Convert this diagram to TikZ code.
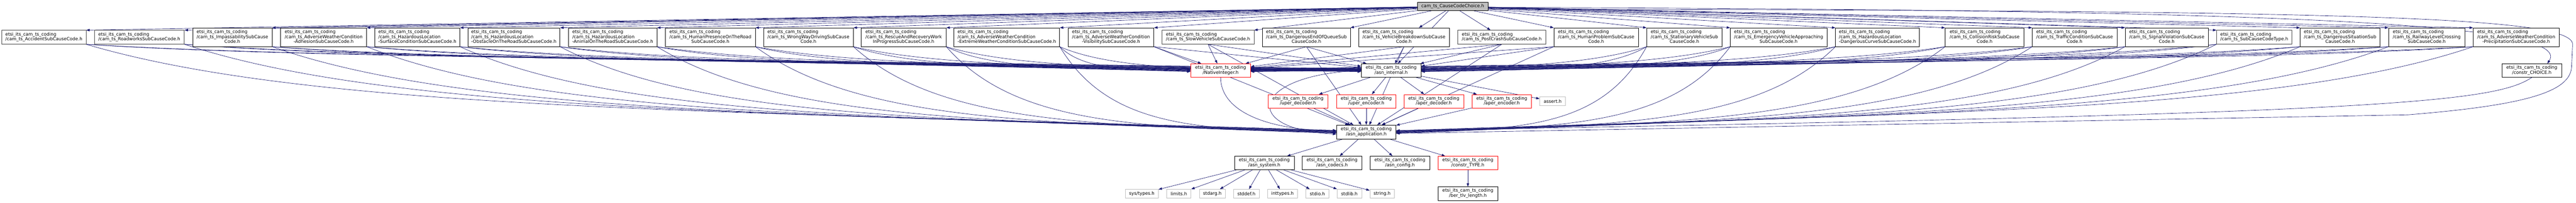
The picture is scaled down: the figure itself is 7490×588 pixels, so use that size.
\documentclass[tikz,border=0pt]{standalone}
\usepackage{fontspec}
\setmainfont{DejaVu Sans}
\usetikzlibrary{arrows.meta,calc}
\pgfdeclarelayer{paper}
\pgfdeclarelayer{edgelayer}
\pgfsetlayers{paper,edgelayer,main}
\definecolor{eb}{HTML}{191970}
\definecolor{sg}{HTML}{BFBFBF}
\newcommand\Epre{etsi\_its\_cam\_ts\_coding}
\newcommand\twol[1]{\begin{tabular}{@{}l@{}}\Epre\\\multicolumn{1}{@{}c@{}}{#1}\end{tabular}}
\newcommand\thrl[2]{\begin{tabular}{@{}l@{}}\Epre\\#1\\\multicolumn{1}{@{}c@{}}{#2}\end{tabular}}
\newcommand\nd[7]{\node[#1,minimum width={(#4-#2)*1pt},minimum height={(#5-#3)*1pt}] (#6) at ({(#2+#4)/2},{(#3+#5)/2}) {#7};}
% curved connector: #1 start, #2 end, #3 level offset (pt, upwards)
\newcommand\cdep[3]{\draw[dep] let \p1=(#1), \p2=(#2) in (\p1) .. controls ({\x1+0.18*(\x2-\x1)},{\y2+#3*1pt}) and ({\x2-0.5*(\x2-\x1)},{\y2+#3*1pt}) .. (\p2);}
\tikzset{
 box/.style={draw=black, fill=white, line width=1pt, inner sep=0pt, text=black, font=\fontsize{13}{14.3}\selectfont},
 boxg/.style={box, draw=black!72},
 boxr/.style={box, draw=red},
 sysbox/.style={box, draw=sg},
 topbox/.style={box, fill=sg},
 dep/.style={draw=eb, line width=1pt, -{Triangle[length=10pt,width=7pt]}},
}
\begin{document}
\begin{tikzpicture}[x=1pt,y=-1pt]
\begin{pgfonlayer}{paper}
\fill[white] (0,0) rectangle (7490,588);
\end{pgfonlayer}
\useasboundingbox (0,0) rectangle (7490,588);
% top
\nd{topbox}{4121}{6}{4327}{31}{ccc}{cam\_ts\_CauseCodeChoice.h}
% row 2
\nd{boxg}{5}{88}{250}{128}{acc}{\twol{/cam\_ts\_AccidentSubCauseCode.h}}
\nd{boxg}{274}{88}{536}{128}{road}{\twol{/cam\_ts\_RoadworksSubCauseCode.h}}
\nd{box}{560}{81}{791}{135}{imp}{\thrl{/cam\_ts\_ImpassabilitySubCause}{Code.h}}
\nd{box}{816}{81}{1066}{135}{adh}{\thrl{/cam\_ts\_AdverseWeatherCondition}{-AdhesionSubCauseCode.h}}
\nd{box}{1090}{81}{1337}{135}{surf}{\thrl{/cam\_ts\_HazardousLocation}{-SurfaceConditionSubCauseCode.h}}
\nd{box}{1360}{81}{1628}{135}{obst}{\thrl{/cam\_ts\_HazardousLocation}{-ObstacleOnTheRoadSubCauseCode.h}}
\nd{box}{1653}{81}{1910}{135}{anim}{\thrl{/cam\_ts\_HazardousLocation}{-AnimalOnTheRoadSubCauseCode.h}}
\nd{box}{1935}{81}{2196}{135}{hpres}{\thrl{/cam\_ts\_HumanPresenceOnTheRoad}{SubCauseCode.h}}
\nd{box}{2220}{81}{2481}{135}{wrong}{\thrl{/cam\_ts\_WrongWayDrivingSubCause}{Code.h}}
\nd{box}{2504}{81}{2751}{135}{rescue}{\thrl{/cam\_ts\_RescueAndRecoveryWork}{InProgressSubCauseCode.h}}
\nd{box}{2774}{81}{3081}{135}{extreme}{\thrl{/cam\_ts\_AdverseWeatherCondition}{-ExtremeWeatherConditionSubCauseCode.h}}
\nd{box}{3106}{81}{3355}{135}{visib}{\thrl{/cam\_ts\_AdverseWeatherCondition}{-VisibilitySubCauseCode.h}}
\nd{boxg}{3379}{88}{3646}{128}{slow}{\twol{/cam\_ts\_SlowVehicleSubCauseCode.h}}
\nd{box}{3671}{81}{3926}{135}{deq}{\thrl{/cam\_ts\_DangerousEndOfQueueSub}{CauseCode.h}}
\nd{box}{3950}{81}{4214}{135}{vbreak}{\thrl{/cam\_ts\_VehicleBreakdownSubCause}{Code.h}}
\nd{boxg}{4239}{88}{4494}{128}{postcrash}{\twol{/cam\_ts\_PostCrashSubCauseCode.h}}
\nd{box}{4518}{81}{4764}{135}{hprob}{\thrl{/cam\_ts\_HumanProblemSubCause}{Code.h}}
\nd{box}{4788}{81}{5007}{135}{stat}{\thrl{/cam\_ts\_StationaryVehicleSub}{CauseCode.h}}
\nd{box}{5031}{81}{5312}{135}{emerg}{\thrl{/cam\_ts\_EmergencyVehicleApproaching}{SubCauseCode.h}}
\nd{box}{5337}{81}{5581}{135}{dcurve}{\thrl{/cam\_ts\_HazardousLocation}{-DangerousCurveSubCauseCode.h}}
\nd{box}{5656}{81}{5885}{135}{coll}{\thrl{/cam\_ts\_CollisionRiskSubCause}{Code.h}}
\nd{box}{5909}{81}{6155}{135}{traffic}{\thrl{/cam\_ts\_TrafficConditionSubCause}{Code.h}}
\nd{box}{6179}{81}{6421}{135}{signal}{\thrl{/cam\_ts\_SignalViolationSubCause}{Code.h}}
\nd{boxg}{6445}{88}{6664}{128}{sctype}{\twol{/cam\_ts\_SubCauseCodeType.h}}
\nd{box}{6688}{81}{6920}{135}{dsit}{\thrl{/cam\_ts\_DangerousSituationSub}{CauseCode.h}}
\nd{box}{6945}{81}{7167}{135}{rail}{\thrl{/cam\_ts\_RailwayLevelCrossing}{SubCauseCode.h}}
\nd{box}{7191}{81}{7441}{135}{precip}{\thrl{/cam\_ts\_AdverseWeatherCondition}{-PrecipitationSubCauseCode.h}}
% row 3
\nd{boxr}{3462}{185}{3636}{224}{ni}{\twol{/NativeInteger.h}}
\nd{box}{3958}{185}{4132}{224}{ai}{\twol{/asn\_internal.h}}
\nd{box}{7275}{185}{7448}{224}{cc}{\twol{/constr\_CHOICE.h}}
% row 4
\nd{boxr}{3687}{274}{3861}{313}{ud}{\twol{/uper\_decoder.h}}
\nd{boxr}{3886}{274}{4059}{313}{ue}{\twol{/uper\_encoder.h}}
\nd{boxr}{4082}{274}{4256}{313}{ad}{\twol{/aper\_decoder.h}}
\nd{boxr}{4280}{274}{4453}{313}{ae}{\twol{/aper\_encoder.h}}
\nd{sysbox}{4477}{281}{4552}{306}{assert}{assert.h}
% row 5
\nd{box}{3886}{363}{4059}{403}{aa}{\twol{/asn\_application.h}}
% row 6
\nd{box}{3589}{453}{3763}{492}{asys}{\twol{/asn\_system.h}}
\nd{box}{3786}{453}{3960}{492}{acod}{\twol{/asn\_codecs.h}}
\nd{box}{3984}{453}{4157}{492}{acfg}{\twol{/asn\_config.h}}
\nd{boxr}{4181}{453}{4355}{492}{ctype}{\twol{/constr\_TYPE.h}}
% row 7
\nd{sysbox}{3272}{549}{3368}{574}{systypes}{sys/types.h}
\nd{sysbox}{3392}{549}{3463}{574}{limits}{limits.h}
\nd{sysbox}{3488}{549}{3562}{574}{stdarg}{stdarg.h}
\nd{sysbox}{3587}{549}{3661}{574}{stddef}{stddef.h}
\nd{sysbox}{3686}{549}{3772}{574}{inttypes}{inttypes.h}
\nd{sysbox}{3797}{549}{3864}{574}{stdio}{stdio.h}
\nd{sysbox}{3888}{549}{3959}{574}{stdlib}{stdlib.h}
\nd{sysbox}{3983}{549}{4054}{574}{string}{string.h}
\nd{box}{4181}{542}{4355}{581}{ber}{\twol{/ber\_tlv\_length.h}}

\begin{pgfonlayer}{edgelayer}
% CauseCodeChoice -> sub cause codes
\foreach \nn in {acc,road,imp,adh,surf,obst,anim,hpres,wrong,rescue,extreme,visib,slow,deq}{
  \draw[dep] (ccc) -- (\nn.north east);
}
\draw[dep] (ccc) -- (vbreak);
\draw[dep] (ccc) -- (postcrash);
\foreach \nn in {hprob,stat,emerg,dcurve,coll,traffic,signal,sctype,dsit,rail,precip}{
  \draw[dep] (ccc) -- (\nn.north west);
}
% left group
\foreach \nn [count=\ii] in {acc,road,imp,adh,surf,obst,anim,hpres,wrong,rescue,extreme}{
  \pgfmathsetmacro\offa{3+2.7*(12-\ii)}
  \pgfmathsetmacro\offb{2+2.6*(12-\ii)}
  \pgfmathsetmacro\offc{8+4.5*(12-\ii)}
  \pgfmathsetmacro\ys{(12-\ii)*0.8-4}
  \cdep{\nn.south east}{[yshift=\ys*1pt]ni.west}{\offa}
  \cdep{\nn.south east}{[yshift=\ys*1pt]ai.west}{\offb}
  \cdep{\nn.south east}{[yshift=\ys*1pt]aa.west}{\offc}
}
\draw[dep] (visib.south east) -- (ni);
\draw[dep] (visib.south east) -- (ai);
\draw[dep] (visib.south east) -- (aa);
\foreach \nn in {slow,deq,vbreak,postcrash}{
  \draw[dep] (\nn.south) -- (ni);
  \draw[dep] (\nn.south) -- (ai);
  \draw[dep] (\nn.south) -- (aa);
}
\draw[dep] (hprob.south west) -- (ni);
\draw[dep] (hprob.south west) -- (ai);
\draw[dep] (hprob.south west) -- (aa);
% right group
\foreach \nn [count=\ii] in {stat,emerg,dcurve,coll,traffic,signal,sctype,dsit,rail,precip}{
  \pgfmathsetmacro\offa{3+2.7*\ii}
  \pgfmathsetmacro\offb{2+2.6*\ii}
  \pgfmathsetmacro\offc{8+4.5*\ii}
  \pgfmathsetmacro\ys{\ii*0.8-4}
  \cdep{\nn.south west}{[yshift=\ys*1pt]ni.east}{\offa}
  \cdep{\nn.south west}{[yshift=\ys*1pt]ai.east}{\offb}
  \cdep{\nn.south west}{[yshift=\ys*1pt]aa.east}{\offc}
}
\draw[dep] (ccc) -- (ai);
\draw[dep] ([yshift=-3pt]ccc.east) .. controls (6500,28) and (7490,60) .. ([xshift=45pt]cc.north);
\draw[dep] ([yshift=-8pt]ccc.east) .. controls (6800,30) and (7488,45) .. (7480,130) -- (7477,195) .. controls (7472,265) and (7350,305) .. (7000,333) -- ([yshift=-4pt]aa.east);
\draw[dep] (cc.south) .. controls (7250,300) and (6900,330) .. ([yshift=4pt]aa.east);
\draw[dep] (ni.south) .. controls (3550,330) and (3700,378) .. ([yshift=4pt]aa.west);
\draw[dep] (ai.west) .. controls (3640,215) and (3600,375) .. ([yshift=-6pt]aa.west);
\foreach \tt in {ud,ue,ad,ae,assert}{ \draw[dep] (ai) -- (\tt); }
\foreach \ss in {ud,ue,ad,ae}{ \draw[dep] (\ss) -- (aa); }
\foreach \tt in {asys,acod,acfg,ctype}{ \draw[dep] (aa) -- (\tt); }
\draw[dep] (ctype) -- (ber);
\foreach \tt in {systypes,limits,stdarg,stddef,inttypes,stdio,stdlib,string}{ \draw[dep] (asys) -- (\tt); }
\end{pgfonlayer}
\end{tikzpicture}
\end{document}
